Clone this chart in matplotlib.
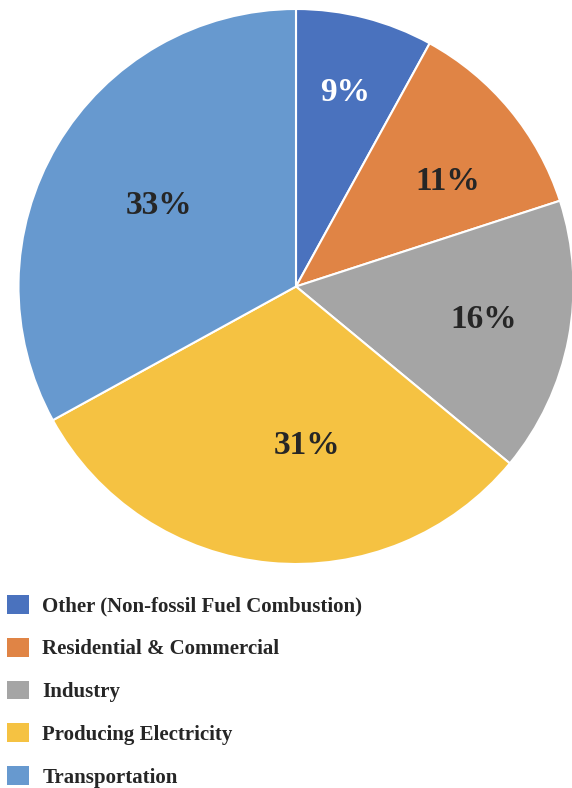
import numpy as np
import matplotlib
matplotlib.use("Agg")
import matplotlib.pyplot as plt
from matplotlib.patches import Patch

# DATA
sectors = ["Other (Non-fossil Fuel Combustion)", "Residential & Commercial",
           "Industry", "Producing Electricity", "Transportation"]
# slice sizes as drawn in the picture
shares = [8, 12, 16, 31, 33]
# data labels as printed on the slices
pct_labels = ["9%", "11%", "16%", "31%", "33%"]
colors = ["#4A72BE", "#E08445", "#A5A5A5", "#F5C242", "#6799CF"]
label_colors = ["white", "#262626", "#262626", "#262626", "#262626"]
# label placement: radius fraction and angle offset (deg) from slice middle
label_dist = [0.73, 0.673, 0.686, 0.565, 0.578]
label_turn = [0.4, -4.1, 1.9, 9.4, -0.8]

plt.rcParams['font.family'] = ['Liberation Serif', 'DejaVu Serif']

W, H = 572, 788
fig = plt.figure(figsize=(W / 100, H / 100), dpi=100)

# pie axes: centre (296, 286.5), radius 277.5 px
cx, cy, r = 296, 286.5, 277.5
ax = fig.add_axes([(cx - r) / W, (H - cy - r) / H, 2 * r / W, 2 * r / H])
wedges, _ = ax.pie(shares, colors=colors, startangle=90, counterclock=False,
                   radius=1, wedgeprops=dict(edgecolor="white", linewidth=1.5))
ax.set_xlim(-1, 1)
ax.set_ylim(-1, 1)
ax.set_aspect("equal")
ax.axis("off")

for w, t, c, d, a in zip(wedges, pct_labels, label_colors, label_dist, label_turn):
    w.set_clip_on(False)
    mid = np.deg2rad((w.theta1 + w.theta2) / 2 + a)
    ax.text(d * np.cos(mid), d * np.sin(mid) - 0.011, t, ha="center", va="center",
            fontsize=24, fontweight="bold", color=c)

handles = [Patch(facecolor=c, edgecolor="none") for c in colors]
fig.legend(handles, sectors, loc="upper left", bbox_to_anchor=(-0.003, (H - 587) / H),
           frameon=False, prop=dict(weight="bold", size=15),
           handlelength=1.056, handleheight=1.0, handletextpad=0.65,
           labelspacing=1.02, labelcolor="#262626", borderaxespad=0)

fig.savefig("out.png", dpi=100)
